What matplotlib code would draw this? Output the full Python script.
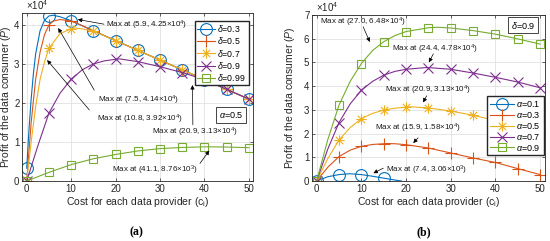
import numpy as np
import matplotlib
matplotlib.use("Agg")
import matplotlib.pyplot as plt
from matplotlib.path import Path
from matplotlib.ticker import FuncFormatter

plt.rcParams['font.family'] = ['Liberation Sans', 'DejaVu Sans']
plt.rcParams['mathtext.fontset'] = 'custom'
plt.rcParams['mathtext.rm'] = 'Liberation Sans'
plt.rcParams['mathtext.it'] = 'Liberation Sans:italic'

C_BLUE, C_ORANGE, C_YELLOW, C_PURPLE, C_GREEN = '#0072BD', '#D95319', '#EDB120', '#7E2F8E', '#77AC30'

# ---------------- Panel (a): alpha = 0.5, values in units of 1e4 ----------------
a_d03_x = [0, 0.5, 1, 1.5, 2, 3, 4, 5, 5.9, 7.5, 10, 12.5, 15, 20, 25, 30, 35, 40, 45, 50]
a_d03_y = [0.33, 1.3, 2.1, 2.75, 3.25, 3.85, 4.12, 4.23, 4.25, 4.21, 4.11, 3.98, 3.85, 3.6, 3.35, 3.1, 2.85, 2.6, 2.35, 2.1]
a_d05_x = [0, 1, 2, 3, 4, 5, 6, 7.5, 10, 12.5, 15, 20, 25, 30, 35, 40, 45, 50]
a_d05_y = [0, 1.5, 2.6, 3.3, 3.75, 4.0, 4.1, 4.14, 4.1, 3.98, 3.85, 3.6, 3.35, 3.1, 2.85, 2.6, 2.35, 2.1]
a_d07_x = [0, 1, 2, 3, 4, 5, 7.5, 10, 10.8, 12.5, 15, 20, 25, 30, 35, 40, 45, 50]
a_d07_y = [0, 1.0, 1.9, 2.6, 3.05, 3.4, 3.78, 3.9, 3.92, 3.9, 3.84, 3.6, 3.35, 3.1, 2.85, 2.6, 2.35, 2.1]
a_d09_x = [0, 2.5, 5, 7.5, 10, 12.5, 15, 17.5, 20, 20.9, 25, 30, 35, 40, 45, 50]
a_d09_y = [0, 0.9, 1.74, 2.25, 2.61, 2.85, 3.0, 3.08, 3.12, 3.13, 3.06, 2.93, 2.78, 2.6, 2.35, 2.1]
a_d099_x = [0, 5, 10, 15, 20, 25, 30, 35, 40, 41.1, 45, 50]
a_d099_y = [0, 0.22, 0.42, 0.57, 0.68, 0.77, 0.83, 0.86, 0.875, 0.876, 0.87, 0.855]
a_labels = [r'$\it{\delta}$=0.3', r'$\it{\delta}$=0.5', r'$\it{\delta}$=0.7', r'$\it{\delta}$=0.9', r'$\it{\delta}$=0.99']

# ---------------- Panel (b): delta = 0.9 ----------------
b_a01_x = [0, 2.5, 5, 7.4, 10, 12.5, 15, 17.5, 19]
b_a01_y = [0, 0.18, 0.27, 0.306, 0.27, 0.2, 0.12, 0.04, 0.0]
b_a03_x = [0, 2.5, 5, 7.5, 10, 12.5, 15, 15.9, 17.5, 20, 25, 30, 35, 40, 45, 50]
b_a03_y = [0, 0.58, 1.03, 1.3, 1.46, 1.54, 1.57, 1.58, 1.57, 1.53, 1.39, 1.18, 0.97, 0.78, 0.52, 0.27]
b_a05_x = [0, 2.5, 5, 7.5, 10, 12.5, 15, 17.5, 20, 20.9, 25, 30, 35, 40, 45, 50]
b_a05_y = [0, 0.95, 1.73, 2.25, 2.63, 2.85, 2.99, 3.07, 3.11, 3.13, 3.08, 2.95, 2.77, 2.55, 2.32, 2.08]
b_a07_x = [0, 2.5, 5, 7.5, 10, 12.5, 15, 17.5, 20, 24.4, 25, 30, 35, 40, 45, 50]
b_a07_y = [0, 1.35, 2.46, 3.25, 3.83, 4.2, 4.46, 4.62, 4.71, 4.78, 4.78, 4.71, 4.55, 4.37, 4.17, 3.93]
b_a09_x = [0, 2.5, 5, 7.5, 10, 12.5, 15, 17.5, 20, 25, 27, 30, 35, 40, 45, 50]
b_a09_y = [0, 1.75, 3.2, 4.2, 4.95, 5.5, 5.87, 6.13, 6.3, 6.46, 6.48, 6.45, 6.34, 6.19, 5.99, 5.77]
b_labels = [r'$\it{\alpha}$=0.1', r'$\it{\alpha}$=0.3', r'$\it{\alpha}$=0.5', r'$\it{\alpha}$=0.7', r'$\it{\alpha}$=0.9']

x_ticks = [0, 10, 20, 30, 40, 50]
a_yticks = [0, 1, 2, 3, 4]
b_yticks = [0, 1, 2, 3, 4, 5, 6, 7]

# MATLAB-style asterisk marker (8 spokes)
_d = 0.7071
ASTERISK = Path([(-1, 0), (1, 0), (0, -1), (0, 1), (-_d, -_d), (_d, _d), (-_d, _d), (_d, -_d)],
                [Path.MOVETO, Path.LINETO] * 4)

colors = [C_BLUE, C_ORANGE, C_YELLOW, C_PURPLE, C_GREEN]
markers = ['o', '+', ASTERISK, 'x', 's']
msizes = [8.5, 8, 7.5, 6.5, 6]

a_series = [(a_d03_x, a_d03_y), (a_d05_x, a_d05_y), (a_d07_x, a_d07_y), (a_d09_x, a_d09_y), (a_d099_x, a_d099_y)]
b_series = [(b_a01_x, b_a01_y), (b_a03_x, b_a03_y), (b_a05_x, b_a05_y), (b_a07_x, b_a07_y), (b_a09_x, b_a09_y)]

# annotations: (text, text_x, text_y, arrow_from, arrow_to)
a_notes = [
    ('Max at (5.9, 4.25×10$^4$)', 17.8, 4.0, (17.4, 4.02), (11.5, 4.14)),
    ('Max at (7.5, 4.14×10$^4$)', 16.0, 2.08, (15.2, 2.33), (7.1, 3.92)),
    ('Max at (10.8, 3.92×10$^4$)', 15.8, 1.58, (14.1, 1.82), (4.6, 3.1)),
    ('Max at (20.9, 3.13×10$^4$)', 28.2, 1.24, (37.4, 1.44), (37.3, 2.46)),
    ('Max at (41.1, 8.76×10$^3$)', 19.2, 0.26, (39.0, 0.45), (41.1, 0.78)),
]
b_notes = [
    ('Max at (27.0, 6.48×10$^4$)', 0.7, 6.68, (10.4, 6.5), (11.9, 5.86)),
    ('Max at (24.4, 4.78×10$^4$)', 16.8, 5.57, (26.1, 5.36), (25.1, 5.0)),
    ('Max at (20.9, 3.13×10$^4$)', 15.3, 3.84, (24.6, 3.59), (23.8, 3.31)),
    ('Max at (15.9, 1.58×10$^4$)', 13.0, 2.2, (22.7, 1.82), (21.6, 1.6)),
    ('Max at (7.4, 3.06×10$^3$)', 15.5, 0.44, (14.9, 0.54), (12.7, 0.33)),
]

SCALE = 1e4

fig = plt.figure(figsize=(5.5, 2.41), dpi=100)
axA = fig.add_axes([0.0405, 0.249, 0.420, 0.696])
axB = fig.add_axes([0.5676, 0.249, 0.4227, 0.689])


def style(ax, ylim_top, ytk, ylab_x):
    ax.set_xlim(-1, 51)
    ax.set_ylim(0, ylim_top * SCALE)
    ax.set_xticks(x_ticks)
    ax.set_yticks([v * SCALE for v in ytk])
    ax.yaxis.set_major_formatter(FuncFormatter(lambda v, p: '%g' % (v / SCALE)))
    ax.text(0.015, 1.005, '×10$^4$', transform=ax.transAxes, fontsize=7, ha='left', va='bottom',
            color='#262626')
    ax.grid(True, color='#dcdcdc', lw=0.5)
    ax.set_axisbelow(True)
    ax.tick_params(direction='in', length=2.5, width=0.5, labelsize=7, top=True, right=True, pad=2,
                   colors='#262626')
    for s in ax.spines.values():
        s.set_linewidth(0.6)
        s.set_color('#262626')
    ax.set_xlabel(r'Cost for each data provider (c$_{\rm i}$)', fontsize=7.5, labelpad=1, color='#262626')
    ax.set_ylabel(r'Profit of the data consumer ($\it{P}$)', fontsize=7.5, color='#262626')
    ax.yaxis.set_label_coords(ylab_x, 0.5)


def draw(ax, series, labels):
    handles = []
    for (xs, ys), c, m, ms, lab in zip(series, colors, markers, msizes, labels):
        xs = np.asarray(xs, float)
        ys = np.asarray(ys, float) * SCALE
        mask = np.isclose(xs % 5, 0)
        h, = ax.plot(xs, ys, color=c, lw=0.8, marker=m, ms=ms, mfc='none', mec=c, mew=0.8,
                     markevery=list(np.where(mask)[0]), label=lab)
        handles.append(h)
    return handles


def notes(ax, items):
    for txt, tx, ty, p0, p1 in items:
        ax.text(tx, ty * SCALE, txt, fontsize=5.8, ha='left', va='center', color='#1a1a1a')
        ax.annotate('', xy=(p1[0], p1[1] * SCALE), xytext=(p0[0], p0[1] * SCALE),
                    arrowprops=dict(arrowstyle='-|>', color='k', lw=0.5, mutation_scale=6,
                                    shrinkA=0, shrinkB=0))


style(axA, 4.3, a_yticks, -0.038)
hA = draw(axA, a_series, a_labels)
notes(axA, a_notes)
axA.legend(handles=hA, loc='upper right', bbox_to_anchor=(0.98, 0.955), fontsize=6.3,
           frameon=True, fancybox=False, edgecolor='#262626', framealpha=1, borderaxespad=0,
           handlelength=2.0, labelspacing=0.12, borderpad=0.3, handletextpad=0.3)
axA.text(46, 1.69 * SCALE, r'$\it{\alpha}$=0.5', fontsize=6.5, ha='center', va='center',
         bbox=dict(boxstyle='square,pad=0.3', fc='white', ec='#262626', lw=0.6))

style(axB, 7, b_yticks, -0.064)
hB = draw(axB, b_series, b_labels)
notes(axB, b_notes)
axB.legend(handles=hB, loc='upper right', bbox_to_anchor=(0.995, 0.51), fontsize=6.5,
           frameon=True, fancybox=False, edgecolor='#262626', framealpha=1, borderaxespad=0,
           handlelength=2.6, labelspacing=0.1, borderpad=0.3, handletextpad=0.3)
axB.text(46.2, 6.57 * SCALE, r'$\it{\delta}$=0.9', fontsize=6.5, ha='center', va='center',
         bbox=dict(boxstyle='square,pad=0.3', fc='white', ec='#262626', lw=0.6))

fig.text(136 / 550, 1 - 232 / 241, '(a)', fontsize=8.5, fontweight='bold', family='Liberation Serif',
         ha='center', va='center')
fig.text(424 / 550, 1 - 232 / 241, '(b)', fontsize=8.5, fontweight='bold', family='Liberation Serif',
         ha='center', va='center')

fig.savefig('out.png', dpi=100)
